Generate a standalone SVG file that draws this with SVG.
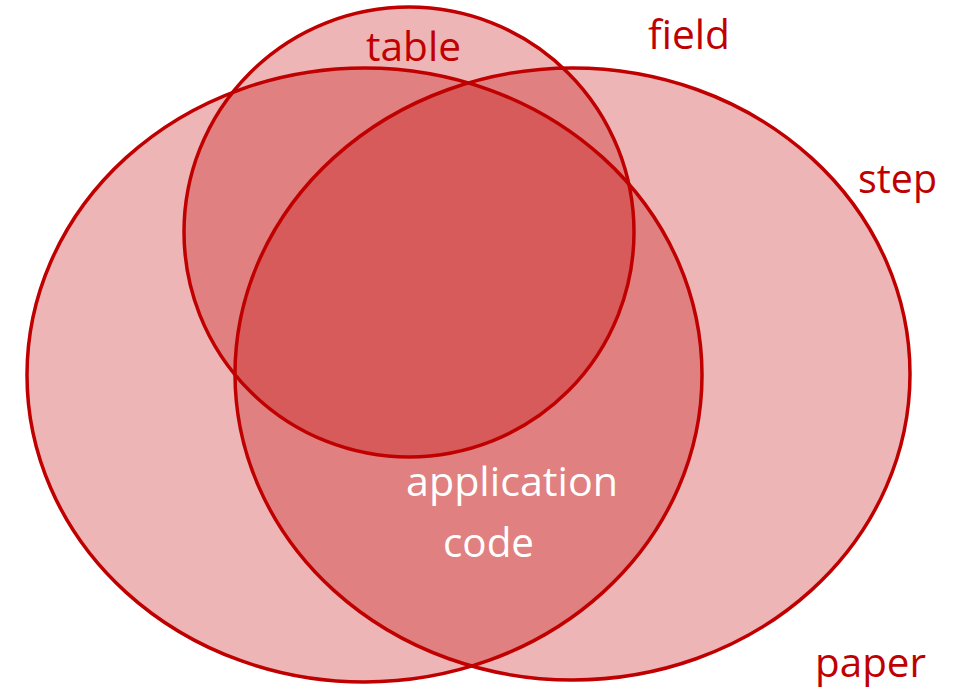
<svg xmlns="http://www.w3.org/2000/svg" width="961" height="688" viewBox="0 0 961 688">
  <style>
    .set { fill: #C00000; fill-opacity: 0.29; stroke: #C00000; stroke-width: 3.5; }
    .lbl { font-family: "Open Sans", "Noto Sans", sans-serif; font-size: 40px; fill: #C00000; }
    .inner { fill: #FFFFFF; }
  </style>
  <rect width="961" height="688" fill="#FFFFFF"/>
  <g id="paper">
    <ellipse class="set" cx="364.5" cy="375" rx="337.5" ry="307"/>
  </g>
  <g id="step">
    <ellipse class="set" cx="572.5" cy="374" rx="337.5" ry="306"/>
  </g>
  <g id="table">
    <circle class="set" cx="409" cy="232" r="225"/>
  </g>
  <g id="labels">
    <text class="lbl" x="366" y="61" textLength="95" lengthAdjust="spacingAndGlyphs">table</text>
    <text class="lbl" x="648" y="49" textLength="82" lengthAdjust="spacingAndGlyphs">field</text>
    <text class="lbl" x="858" y="193" textLength="79" lengthAdjust="spacingAndGlyphs">step</text>
    <text class="lbl" x="815" y="677" textLength="111" lengthAdjust="spacingAndGlyphs">paper</text>
    <text class="lbl inner" x="406" y="496" textLength="212" lengthAdjust="spacingAndGlyphs">application</text>
    <text class="lbl inner" x="443" y="557" textLength="91" lengthAdjust="spacingAndGlyphs">code</text>
  </g>
</svg>
